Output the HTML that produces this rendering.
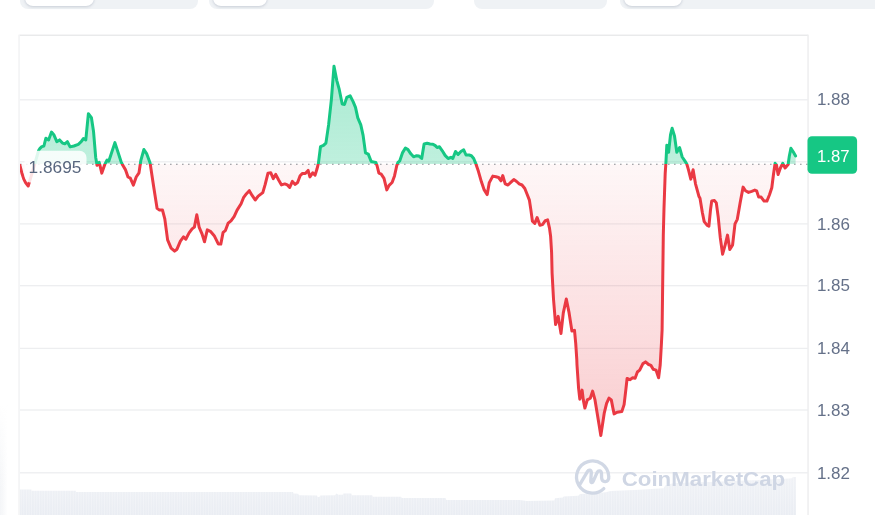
<!DOCTYPE html>
<html><head><meta charset="utf-8">
<style>
html,body{margin:0;padding:0;background:#fff;}
body{width:875px;height:515px;overflow:hidden;position:relative;font-family:"Liberation Sans",sans-serif;}
.pill{position:absolute;top:-30px;height:38.5px;background:#EFF2F5;border-radius:8px;}
.in{position:absolute;top:-30px;height:35.9px;background:#fff;border-radius:8px;box-shadow:0 1px 3px rgba(88,102,126,.22),0 0 2px rgba(88,102,126,.10);}
svg{position:absolute;left:0;top:0;will-change:transform;}
.ax{font-family:"Liberation Sans",sans-serif;font-size:17.0px;fill:#657189;}
</style></head><body>
<div class="pill" style="left:20px;width:177.5px"></div>
<div class="in" style="left:25px;width:68.5px"></div>
<div class="pill" style="left:209px;width:225px"></div>
<div class="in" style="left:212.5px;width:54px"></div>
<div class="pill" style="left:474px;width:132.5px"></div>
<div class="pill" style="left:619.5px;width:300px"></div>
<div class="in" style="left:624px;width:58px"></div>
<svg width="875" height="515" viewBox="0 0 875 515">
<defs>
<linearGradient id="gg" x1="0" y1="35" x2="0" y2="164.0" gradientUnits="userSpaceOnUse">
<stop offset="0" stop-color="#16C784" stop-opacity="0.40"/><stop offset="1" stop-color="#16C784" stop-opacity="0.275"/></linearGradient>
<linearGradient id="rg" x1="0" y1="164.0" x2="0" y2="500" gradientUnits="userSpaceOnUse">
<stop offset="0" stop-color="#EA3943" stop-opacity="0.04"/><stop offset="1" stop-color="#EA3943" stop-opacity="0.305"/></linearGradient>
<linearGradient id="lsh" x1="0" y1="0" x2="1" y2="0"><stop offset="0" stop-color="#DDE1E8" stop-opacity=".34"/><stop offset="1" stop-color="#DDE1E8" stop-opacity="0"/></linearGradient>
<linearGradient id="lshv" x1="0" y1="0" x2="0" y2="1"><stop offset="0" stop-color="#fff" stop-opacity="1"/><stop offset="1" stop-color="#fff" stop-opacity="0"/></linearGradient>
<linearGradient id="vg" x1="0" y1="478" x2="0" y2="515" gradientUnits="userSpaceOnUse"><stop offset="0" stop-color="#F0F2F6"/><stop offset="1" stop-color="#EAEDF3"/></linearGradient>
<clipPath id="up"><rect x="20" y="0" width="855" height="164.0"/></clipPath>
<clipPath id="dn"><rect x="20" y="164.0" width="855" height="351.0"/></clipPath>
<pattern id="vs" width="2.6" height="10" patternUnits="userSpaceOnUse"><rect x="0" y="0" width="0.7" height="10" fill="#fff" fill-opacity=".35"/></pattern>
</defs>
<g opacity="0.999">
<!-- left faint shadow -->
<rect x="0" y="405" width="8" height="110" fill="url(#lsh)"/>
<rect x="0" y="405" width="8" height="85" fill="url(#lshv)"/>
<!-- chart frame -->
<rect x="19.6" y="34.55" width="788.2" height="1.4" fill="#E8E9EA"/>
<rect x="18.4" y="34.6" width="1.3" height="481" fill="#F0F1F2"/>
<rect x="807.4" y="34.6" width="1.3" height="481" fill="#EBECED"/>
<rect x="20" y="99.15" width="788" height="1.3" fill="#EDEEF0"/>
<rect x="20" y="161.15" width="788" height="1.3" fill="#EDEEF0"/>
<rect x="20" y="223.25" width="788" height="1.3" fill="#EDEEF0"/>
<rect x="20" y="285.05" width="788" height="1.3" fill="#EDEEF0"/>
<rect x="20" y="347.75" width="788" height="1.3" fill="#EDEEF0"/>
<rect x="20" y="409.35" width="788" height="1.3" fill="#EDEEF0"/>
<rect x="20" y="472.15" width="788" height="1.3" fill="#EDEEF0"/>
<!-- volume -->
<path d="M20.0,489.4 L31.5,489.4 L31.5,490.8 L76.0,490.8 L76.0,492.1 L293.0,492.1 L293.5,493.6 L298.3,493.8 L298.8,495.3 L317.0,495.5 L317.6,496.9 L319.5,496.9 L320.2,495.5 L335.0,495.2 L336.5,493.5 L338.3,494.7 L342.7,494.7 L343.4,493.5 L351.2,493.5 L352.0,495.2 L372.2,495.2 L372.7,496.8 L401.0,496.8 L401.7,498.1 L445.5,498.1 L446.3,499.9 L520.0,500.0 L527.0,500.9 L554.3,500.5 L555.1,498.3 L562.9,497.4 L563.7,496.6 L578.3,495.7 L580.0,494.0 L593.7,493.5 L605.7,492.3 L610.9,490.9 L640.0,489.7 L663.6,488.3 L665.3,485.6 L673.9,483.0 L710.0,482.1 L785.3,478.7 L792.5,478.2 L792.5,477.0 L796.0,477.0 L796,515 L20,515 Z" fill="url(#vg)"/>
<path d="M20.0,489.4 L31.5,489.4 L31.5,490.8 L76.0,490.8 L76.0,492.1 L293.0,492.1 L293.5,493.6 L298.3,493.8 L298.8,495.3 L317.0,495.5 L317.6,496.9 L319.5,496.9 L320.2,495.5 L335.0,495.2 L336.5,493.5 L338.3,494.7 L342.7,494.7 L343.4,493.5 L351.2,493.5 L352.0,495.2 L372.2,495.2 L372.7,496.8 L401.0,496.8 L401.7,498.1 L445.5,498.1 L446.3,499.9 L520.0,500.0 L527.0,500.9 L554.3,500.5 L555.1,498.3 L562.9,497.4 L563.7,496.6 L578.3,495.7 L580.0,494.0 L593.7,493.5 L605.7,492.3 L610.9,490.9 L640.0,489.7 L663.6,488.3 L665.3,485.6 L673.9,483.0 L710.0,482.1 L785.3,478.7 L792.5,478.2 L792.5,477.0 L796.0,477.0 L796,515 L20,515 Z" fill="url(#vs)"/>
<!-- watermark -->
<g fill="none" stroke="#CFD6E4" stroke-width="3.3" stroke-linecap="round" stroke-linejoin="round" opacity="0.95">
<path d="M603.8,488.6 A16.1,16.1 0 1 1 608.7,476.3 C609.3,480.2 607,481.7 605.1,481.6 C603,481.5 601.7,480 601.6,477.8 L601.5,473.8 C601.4,470.4 598.6,469.9 597.2,472.4 L593.2,481.3 C592.3,483.2 590.7,482.9 590.8,480.8 L591.3,472.8 C591.4,469.6 588.8,469.2 587.4,471.6 L579.6,484.9"/>
</g>
<text x="621.7" y="485.5" font-family="Liberation Sans, sans-serif" font-size="21" font-weight="bold" fill="#CFD6E4" textLength="163.5" lengthAdjust="spacingAndGlyphs">CoinMarketCap</text>
<!-- areas -->
<path d="M20.0,165.5 L21.9,173.2 L23.8,179.0 L25.7,182.8 L28.2,186.0 L30.8,177.4 L34.6,164.5 L38.6,150.5 L40.0,148.3 L41.8,146.6 L43.9,146.0 L45.9,138.2 L48.6,139.9 L51.5,132.1 L53.8,134.7 L56.8,141.7 L59.6,139.9 L62.5,143.1 L64.8,143.8 L67.4,141.7 L70.1,146.9 L73.9,146.0 L78.3,144.3 L81.2,141.7 L83.5,138.5 L85.8,139.9 L88.4,113.7 L91.4,117.6 L93.5,131.2 L95.7,157.4 L96.6,162.6 L97.0,165.3 L99.2,162.3 L101.8,173.1 L104.8,164.4 L107.1,160.0 L108.8,161.2 L114.9,142.6 L121.1,161.8 L122.8,165.3 L125.4,169.6 L128.0,177.0 L130.3,178.1 L133.4,185.1 L136.2,177.0 L139.0,172.8 L140.8,160.6 L143.9,149.5 L146.6,153.6 L150.1,163.0 L153.6,186.3 L157.1,208.4 L159.5,210.1 L162.5,210.1 L164.8,218.9 L167.6,239.9 L171.1,248.1 L174.6,251.1 L177.0,249.2 L180.4,241.1 L183.5,236.9 L185.8,239.2 L189.1,232.9 L192.1,228.9 L194.4,227.1 L196.8,214.7 L199.1,227.1 L202.1,234.1 L204.5,241.8 L207.3,229.9 L210.8,231.7 L214.2,235.7 L218.4,244.1 L220.8,244.1 L223.1,232.4 L225.4,230.6 L228.2,223.1 L231.0,220.8 L234.1,216.6 L237.1,210.1 L241.1,203.8 L243.5,197.7 L246.5,193.7 L249.3,190.7 L252.1,195.4 L255.2,200.0 L258.2,196.1 L262.8,192.6 L265.2,184.4 L268.0,173.2 L270.8,172.8 L273.3,178.6 L275.7,174.4 L278.5,179.7 L281.5,184.9 L284.8,183.9 L287.3,184.9 L289.7,187.4 L292.4,181.4 L295.2,184.4 L297.6,182.5 L300.1,175.8 L302.5,173.4 L305.3,173.4 L308.1,170.4 L309.9,176.9 L312.7,172.8 L315.1,175.1 L316.9,169.3 L318.4,163.4 L320.5,146.6 L323.5,145.4 L325.9,143.1 L328.6,124.9 L331.4,99.3 L334.0,66.2 L336.8,80.6 L339.1,88.8 L342.2,104.0 L344.5,104.4 L346.8,97.4 L350.1,95.8 L353.1,101.6 L355.5,107.4 L357.8,117.9 L360.8,124.9 L363.1,135.4 L365.5,152.9 L368.3,154.1 L371.2,161.5 L375.8,162.4 L377.0,165.5 L378.9,173.1 L381.2,174.1 L384.0,178.3 L386.8,189.9 L389.1,185.3 L392.1,182.5 L394.5,175.9 L396.8,165.5 L398.0,162.4 L399.8,160.8 L402.6,152.6 L405.4,148.0 L408.0,149.6 L410.8,153.8 L413.6,156.8 L416.6,155.7 L419.0,156.1 L421.7,158.5 L424.1,144.0 L427.1,143.3 L430.1,144.0 L432.9,144.2 L435.3,145.6 L437.1,147.5 L439.5,146.8 L442.3,150.8 L445.1,155.4 L448.1,158.5 L450.9,157.3 L452.8,158.5 L455.5,151.5 L458.1,154.5 L460.9,151.5 L463.7,149.8 L466.0,155.0 L469.1,155.0 L471.4,155.7 L473.7,158.5 L475.6,163.1 L478.4,171.3 L481.4,181.8 L484.2,189.9 L487.2,194.6 L489.3,182.6 L492.8,176.1 L495.9,176.8 L498.6,177.5 L501.0,180.8 L502.8,175.6 L505.2,183.8 L508.0,185.0 L511.0,182.2 L513.8,179.6 L516.6,181.5 L519.2,183.8 L522.0,185.0 L524.8,188.5 L527.1,194.3 L529.4,200.1 L530.8,209.4 L532.4,221.1 L534.8,223.4 L537.1,217.6 L539.9,225.3 L542.5,224.6 L545.3,220.6 L547.6,219.9 L549.5,228.1 L550.6,236.2 L551.6,252.6 L552.1,273.3 L553.5,299.0 L555.6,324.6 L558.2,316.4 L561.0,333.4 L563.3,312.9 L566.3,299.0 L569.1,312.9 L571.9,331.1 L574.5,330.4 L575.7,343.2 L576.8,359.6 L577.0,365.0 L578.6,388.3 L579.8,399.2 L582.1,390.1 L583.3,399.9 L584.9,408.1 L587.3,399.9 L590.3,398.3 L592.6,391.1 L595.0,399.9 L597.3,413.9 L599.2,425.6 L600.8,435.4 L602.7,423.2 L604.3,412.8 L606.6,403.4 L609.0,398.1 L611.3,399.9 L612.9,408.1 L614.1,413.9 L617.1,412.3 L621.8,411.6 L624.1,404.6 L626.0,388.3 L627.1,378.5 L629.9,379.7 L632.7,377.8 L635.1,378.3 L637.4,372.0 L639.7,370.1 L642.8,363.8 L645.5,361.9 L648.6,364.5 L650.9,365.4 L653.2,369.2 L656.0,370.1 L658.6,377.8 L660.2,365.0 L661.4,344.0 L662.1,330.0 L663.3,235.0 L664.0,208.2 L665.2,173.3 L665.9,162.8 L666.8,145.3 L668.6,152.3 L670.5,134.8 L672.1,128.3 L674.5,136.0 L676.8,152.3 L679.6,147.6 L682.2,157.0 L685.0,161.2 L686.8,164.0 L688.5,169.8 L690.8,179.1 L693.1,169.8 L695.5,183.8 L699.0,196.6 L700.0,198.3 L702.3,212.3 L704.2,221.6 L707.0,225.1 L708.9,226.2 L710.5,209.9 L711.7,201.1 L714.5,200.6 L716.3,202.9 L718.2,216.9 L720.3,237.9 L722.6,254.2 L725.2,244.9 L727.5,235.1 L729.8,249.6 L732.6,244.9 L735.0,223.9 L737.3,219.3 L740.1,202.9 L743.1,187.1 L745.5,190.8 L748.5,192.4 L751.7,191.3 L754.8,190.1 L756.6,190.8 L758.7,197.1 L761.1,197.1 L764.1,201.1 L766.9,201.1 L769.5,194.8 L771.8,187.8 L773.4,175.0 L775.1,163.3 L776.5,165.2 L778.1,174.5 L780.4,168.0 L782.8,163.3 L785.1,168.0 L788.1,164.5 L789.3,156.3 L790.9,148.2 L793.2,151.7 L795.6,155.9 L795.6,164.0 L20.0,164.0 Z" fill="url(#gg)" clip-path="url(#up)"/>
<path d="M20.0,165.5 L21.9,173.2 L23.8,179.0 L25.7,182.8 L28.2,186.0 L30.8,177.4 L34.6,164.5 L38.6,150.5 L40.0,148.3 L41.8,146.6 L43.9,146.0 L45.9,138.2 L48.6,139.9 L51.5,132.1 L53.8,134.7 L56.8,141.7 L59.6,139.9 L62.5,143.1 L64.8,143.8 L67.4,141.7 L70.1,146.9 L73.9,146.0 L78.3,144.3 L81.2,141.7 L83.5,138.5 L85.8,139.9 L88.4,113.7 L91.4,117.6 L93.5,131.2 L95.7,157.4 L96.6,162.6 L97.0,165.3 L99.2,162.3 L101.8,173.1 L104.8,164.4 L107.1,160.0 L108.8,161.2 L114.9,142.6 L121.1,161.8 L122.8,165.3 L125.4,169.6 L128.0,177.0 L130.3,178.1 L133.4,185.1 L136.2,177.0 L139.0,172.8 L140.8,160.6 L143.9,149.5 L146.6,153.6 L150.1,163.0 L153.6,186.3 L157.1,208.4 L159.5,210.1 L162.5,210.1 L164.8,218.9 L167.6,239.9 L171.1,248.1 L174.6,251.1 L177.0,249.2 L180.4,241.1 L183.5,236.9 L185.8,239.2 L189.1,232.9 L192.1,228.9 L194.4,227.1 L196.8,214.7 L199.1,227.1 L202.1,234.1 L204.5,241.8 L207.3,229.9 L210.8,231.7 L214.2,235.7 L218.4,244.1 L220.8,244.1 L223.1,232.4 L225.4,230.6 L228.2,223.1 L231.0,220.8 L234.1,216.6 L237.1,210.1 L241.1,203.8 L243.5,197.7 L246.5,193.7 L249.3,190.7 L252.1,195.4 L255.2,200.0 L258.2,196.1 L262.8,192.6 L265.2,184.4 L268.0,173.2 L270.8,172.8 L273.3,178.6 L275.7,174.4 L278.5,179.7 L281.5,184.9 L284.8,183.9 L287.3,184.9 L289.7,187.4 L292.4,181.4 L295.2,184.4 L297.6,182.5 L300.1,175.8 L302.5,173.4 L305.3,173.4 L308.1,170.4 L309.9,176.9 L312.7,172.8 L315.1,175.1 L316.9,169.3 L318.4,163.4 L320.5,146.6 L323.5,145.4 L325.9,143.1 L328.6,124.9 L331.4,99.3 L334.0,66.2 L336.8,80.6 L339.1,88.8 L342.2,104.0 L344.5,104.4 L346.8,97.4 L350.1,95.8 L353.1,101.6 L355.5,107.4 L357.8,117.9 L360.8,124.9 L363.1,135.4 L365.5,152.9 L368.3,154.1 L371.2,161.5 L375.8,162.4 L377.0,165.5 L378.9,173.1 L381.2,174.1 L384.0,178.3 L386.8,189.9 L389.1,185.3 L392.1,182.5 L394.5,175.9 L396.8,165.5 L398.0,162.4 L399.8,160.8 L402.6,152.6 L405.4,148.0 L408.0,149.6 L410.8,153.8 L413.6,156.8 L416.6,155.7 L419.0,156.1 L421.7,158.5 L424.1,144.0 L427.1,143.3 L430.1,144.0 L432.9,144.2 L435.3,145.6 L437.1,147.5 L439.5,146.8 L442.3,150.8 L445.1,155.4 L448.1,158.5 L450.9,157.3 L452.8,158.5 L455.5,151.5 L458.1,154.5 L460.9,151.5 L463.7,149.8 L466.0,155.0 L469.1,155.0 L471.4,155.7 L473.7,158.5 L475.6,163.1 L478.4,171.3 L481.4,181.8 L484.2,189.9 L487.2,194.6 L489.3,182.6 L492.8,176.1 L495.9,176.8 L498.6,177.5 L501.0,180.8 L502.8,175.6 L505.2,183.8 L508.0,185.0 L511.0,182.2 L513.8,179.6 L516.6,181.5 L519.2,183.8 L522.0,185.0 L524.8,188.5 L527.1,194.3 L529.4,200.1 L530.8,209.4 L532.4,221.1 L534.8,223.4 L537.1,217.6 L539.9,225.3 L542.5,224.6 L545.3,220.6 L547.6,219.9 L549.5,228.1 L550.6,236.2 L551.6,252.6 L552.1,273.3 L553.5,299.0 L555.6,324.6 L558.2,316.4 L561.0,333.4 L563.3,312.9 L566.3,299.0 L569.1,312.9 L571.9,331.1 L574.5,330.4 L575.7,343.2 L576.8,359.6 L577.0,365.0 L578.6,388.3 L579.8,399.2 L582.1,390.1 L583.3,399.9 L584.9,408.1 L587.3,399.9 L590.3,398.3 L592.6,391.1 L595.0,399.9 L597.3,413.9 L599.2,425.6 L600.8,435.4 L602.7,423.2 L604.3,412.8 L606.6,403.4 L609.0,398.1 L611.3,399.9 L612.9,408.1 L614.1,413.9 L617.1,412.3 L621.8,411.6 L624.1,404.6 L626.0,388.3 L627.1,378.5 L629.9,379.7 L632.7,377.8 L635.1,378.3 L637.4,372.0 L639.7,370.1 L642.8,363.8 L645.5,361.9 L648.6,364.5 L650.9,365.4 L653.2,369.2 L656.0,370.1 L658.6,377.8 L660.2,365.0 L661.4,344.0 L662.1,330.0 L663.3,235.0 L664.0,208.2 L665.2,173.3 L665.9,162.8 L666.8,145.3 L668.6,152.3 L670.5,134.8 L672.1,128.3 L674.5,136.0 L676.8,152.3 L679.6,147.6 L682.2,157.0 L685.0,161.2 L686.8,164.0 L688.5,169.8 L690.8,179.1 L693.1,169.8 L695.5,183.8 L699.0,196.6 L700.0,198.3 L702.3,212.3 L704.2,221.6 L707.0,225.1 L708.9,226.2 L710.5,209.9 L711.7,201.1 L714.5,200.6 L716.3,202.9 L718.2,216.9 L720.3,237.9 L722.6,254.2 L725.2,244.9 L727.5,235.1 L729.8,249.6 L732.6,244.9 L735.0,223.9 L737.3,219.3 L740.1,202.9 L743.1,187.1 L745.5,190.8 L748.5,192.4 L751.7,191.3 L754.8,190.1 L756.6,190.8 L758.7,197.1 L761.1,197.1 L764.1,201.1 L766.9,201.1 L769.5,194.8 L771.8,187.8 L773.4,175.0 L775.1,163.3 L776.5,165.2 L778.1,174.5 L780.4,168.0 L782.8,163.3 L785.1,168.0 L788.1,164.5 L789.3,156.3 L790.9,148.2 L793.2,151.7 L795.6,155.9 L795.6,164.0 L20.0,164.0 Z" fill="url(#rg)" clip-path="url(#dn)"/>
<!-- baseline dots -->
<line x1="20" y1="164.2" x2="808" y2="164.2" stroke="#8A8D93" stroke-width="1.1" stroke-dasharray="1.6 4.4" stroke-dashoffset="0"/>
<!-- lines -->
<path d="M20.0,165.5 L21.9,173.2 L23.8,179.0 L25.7,182.8 L28.2,186.0 L30.8,177.4 L34.6,164.5 L38.6,150.5 L40.0,148.3 L41.8,146.6 L43.9,146.0 L45.9,138.2 L48.6,139.9 L51.5,132.1 L53.8,134.7 L56.8,141.7 L59.6,139.9 L62.5,143.1 L64.8,143.8 L67.4,141.7 L70.1,146.9 L73.9,146.0 L78.3,144.3 L81.2,141.7 L83.5,138.5 L85.8,139.9 L88.4,113.7 L91.4,117.6 L93.5,131.2 L95.7,157.4 L96.6,162.6 L97.0,165.3 L99.2,162.3 L101.8,173.1 L104.8,164.4 L107.1,160.0 L108.8,161.2 L114.9,142.6 L121.1,161.8 L122.8,165.3 L125.4,169.6 L128.0,177.0 L130.3,178.1 L133.4,185.1 L136.2,177.0 L139.0,172.8 L140.8,160.6 L143.9,149.5 L146.6,153.6 L150.1,163.0 L153.6,186.3 L157.1,208.4 L159.5,210.1 L162.5,210.1 L164.8,218.9 L167.6,239.9 L171.1,248.1 L174.6,251.1 L177.0,249.2 L180.4,241.1 L183.5,236.9 L185.8,239.2 L189.1,232.9 L192.1,228.9 L194.4,227.1 L196.8,214.7 L199.1,227.1 L202.1,234.1 L204.5,241.8 L207.3,229.9 L210.8,231.7 L214.2,235.7 L218.4,244.1 L220.8,244.1 L223.1,232.4 L225.4,230.6 L228.2,223.1 L231.0,220.8 L234.1,216.6 L237.1,210.1 L241.1,203.8 L243.5,197.7 L246.5,193.7 L249.3,190.7 L252.1,195.4 L255.2,200.0 L258.2,196.1 L262.8,192.6 L265.2,184.4 L268.0,173.2 L270.8,172.8 L273.3,178.6 L275.7,174.4 L278.5,179.7 L281.5,184.9 L284.8,183.9 L287.3,184.9 L289.7,187.4 L292.4,181.4 L295.2,184.4 L297.6,182.5 L300.1,175.8 L302.5,173.4 L305.3,173.4 L308.1,170.4 L309.9,176.9 L312.7,172.8 L315.1,175.1 L316.9,169.3 L318.4,163.4 L320.5,146.6 L323.5,145.4 L325.9,143.1 L328.6,124.9 L331.4,99.3 L334.0,66.2 L336.8,80.6 L339.1,88.8 L342.2,104.0 L344.5,104.4 L346.8,97.4 L350.1,95.8 L353.1,101.6 L355.5,107.4 L357.8,117.9 L360.8,124.9 L363.1,135.4 L365.5,152.9 L368.3,154.1 L371.2,161.5 L375.8,162.4 L377.0,165.5 L378.9,173.1 L381.2,174.1 L384.0,178.3 L386.8,189.9 L389.1,185.3 L392.1,182.5 L394.5,175.9 L396.8,165.5 L398.0,162.4 L399.8,160.8 L402.6,152.6 L405.4,148.0 L408.0,149.6 L410.8,153.8 L413.6,156.8 L416.6,155.7 L419.0,156.1 L421.7,158.5 L424.1,144.0 L427.1,143.3 L430.1,144.0 L432.9,144.2 L435.3,145.6 L437.1,147.5 L439.5,146.8 L442.3,150.8 L445.1,155.4 L448.1,158.5 L450.9,157.3 L452.8,158.5 L455.5,151.5 L458.1,154.5 L460.9,151.5 L463.7,149.8 L466.0,155.0 L469.1,155.0 L471.4,155.7 L473.7,158.5 L475.6,163.1 L478.4,171.3 L481.4,181.8 L484.2,189.9 L487.2,194.6 L489.3,182.6 L492.8,176.1 L495.9,176.8 L498.6,177.5 L501.0,180.8 L502.8,175.6 L505.2,183.8 L508.0,185.0 L511.0,182.2 L513.8,179.6 L516.6,181.5 L519.2,183.8 L522.0,185.0 L524.8,188.5 L527.1,194.3 L529.4,200.1 L530.8,209.4 L532.4,221.1 L534.8,223.4 L537.1,217.6 L539.9,225.3 L542.5,224.6 L545.3,220.6 L547.6,219.9 L549.5,228.1 L550.6,236.2 L551.6,252.6 L552.1,273.3 L553.5,299.0 L555.6,324.6 L558.2,316.4 L561.0,333.4 L563.3,312.9 L566.3,299.0 L569.1,312.9 L571.9,331.1 L574.5,330.4 L575.7,343.2 L576.8,359.6 L577.0,365.0 L578.6,388.3 L579.8,399.2 L582.1,390.1 L583.3,399.9 L584.9,408.1 L587.3,399.9 L590.3,398.3 L592.6,391.1 L595.0,399.9 L597.3,413.9 L599.2,425.6 L600.8,435.4 L602.7,423.2 L604.3,412.8 L606.6,403.4 L609.0,398.1 L611.3,399.9 L612.9,408.1 L614.1,413.9 L617.1,412.3 L621.8,411.6 L624.1,404.6 L626.0,388.3 L627.1,378.5 L629.9,379.7 L632.7,377.8 L635.1,378.3 L637.4,372.0 L639.7,370.1 L642.8,363.8 L645.5,361.9 L648.6,364.5 L650.9,365.4 L653.2,369.2 L656.0,370.1 L658.6,377.8 L660.2,365.0 L661.4,344.0 L662.1,330.0 L663.3,235.0 L664.0,208.2 L665.2,173.3 L665.9,162.8 L666.8,145.3 L668.6,152.3 L670.5,134.8 L672.1,128.3 L674.5,136.0 L676.8,152.3 L679.6,147.6 L682.2,157.0 L685.0,161.2 L686.8,164.0 L688.5,169.8 L690.8,179.1 L693.1,169.8 L695.5,183.8 L699.0,196.6 L700.0,198.3 L702.3,212.3 L704.2,221.6 L707.0,225.1 L708.9,226.2 L710.5,209.9 L711.7,201.1 L714.5,200.6 L716.3,202.9 L718.2,216.9 L720.3,237.9 L722.6,254.2 L725.2,244.9 L727.5,235.1 L729.8,249.6 L732.6,244.9 L735.0,223.9 L737.3,219.3 L740.1,202.9 L743.1,187.1 L745.5,190.8 L748.5,192.4 L751.7,191.3 L754.8,190.1 L756.6,190.8 L758.7,197.1 L761.1,197.1 L764.1,201.1 L766.9,201.1 L769.5,194.8 L771.8,187.8 L773.4,175.0 L775.1,163.3 L776.5,165.2 L778.1,174.5 L780.4,168.0 L782.8,163.3 L785.1,168.0 L788.1,164.5 L789.3,156.3 L790.9,148.2 L793.2,151.7 L795.6,155.9" fill="none" stroke="#16C784" stroke-width="3.0" stroke-linejoin="round" stroke-linecap="round" clip-path="url(#up)"/>
<path d="M20.0,165.5 L21.9,173.2 L23.8,179.0 L25.7,182.8 L28.2,186.0 L30.8,177.4 L34.6,164.5 L38.6,150.5 L40.0,148.3 L41.8,146.6 L43.9,146.0 L45.9,138.2 L48.6,139.9 L51.5,132.1 L53.8,134.7 L56.8,141.7 L59.6,139.9 L62.5,143.1 L64.8,143.8 L67.4,141.7 L70.1,146.9 L73.9,146.0 L78.3,144.3 L81.2,141.7 L83.5,138.5 L85.8,139.9 L88.4,113.7 L91.4,117.6 L93.5,131.2 L95.7,157.4 L96.6,162.6 L97.0,165.3 L99.2,162.3 L101.8,173.1 L104.8,164.4 L107.1,160.0 L108.8,161.2 L114.9,142.6 L121.1,161.8 L122.8,165.3 L125.4,169.6 L128.0,177.0 L130.3,178.1 L133.4,185.1 L136.2,177.0 L139.0,172.8 L140.8,160.6 L143.9,149.5 L146.6,153.6 L150.1,163.0 L153.6,186.3 L157.1,208.4 L159.5,210.1 L162.5,210.1 L164.8,218.9 L167.6,239.9 L171.1,248.1 L174.6,251.1 L177.0,249.2 L180.4,241.1 L183.5,236.9 L185.8,239.2 L189.1,232.9 L192.1,228.9 L194.4,227.1 L196.8,214.7 L199.1,227.1 L202.1,234.1 L204.5,241.8 L207.3,229.9 L210.8,231.7 L214.2,235.7 L218.4,244.1 L220.8,244.1 L223.1,232.4 L225.4,230.6 L228.2,223.1 L231.0,220.8 L234.1,216.6 L237.1,210.1 L241.1,203.8 L243.5,197.7 L246.5,193.7 L249.3,190.7 L252.1,195.4 L255.2,200.0 L258.2,196.1 L262.8,192.6 L265.2,184.4 L268.0,173.2 L270.8,172.8 L273.3,178.6 L275.7,174.4 L278.5,179.7 L281.5,184.9 L284.8,183.9 L287.3,184.9 L289.7,187.4 L292.4,181.4 L295.2,184.4 L297.6,182.5 L300.1,175.8 L302.5,173.4 L305.3,173.4 L308.1,170.4 L309.9,176.9 L312.7,172.8 L315.1,175.1 L316.9,169.3 L318.4,163.4 L320.5,146.6 L323.5,145.4 L325.9,143.1 L328.6,124.9 L331.4,99.3 L334.0,66.2 L336.8,80.6 L339.1,88.8 L342.2,104.0 L344.5,104.4 L346.8,97.4 L350.1,95.8 L353.1,101.6 L355.5,107.4 L357.8,117.9 L360.8,124.9 L363.1,135.4 L365.5,152.9 L368.3,154.1 L371.2,161.5 L375.8,162.4 L377.0,165.5 L378.9,173.1 L381.2,174.1 L384.0,178.3 L386.8,189.9 L389.1,185.3 L392.1,182.5 L394.5,175.9 L396.8,165.5 L398.0,162.4 L399.8,160.8 L402.6,152.6 L405.4,148.0 L408.0,149.6 L410.8,153.8 L413.6,156.8 L416.6,155.7 L419.0,156.1 L421.7,158.5 L424.1,144.0 L427.1,143.3 L430.1,144.0 L432.9,144.2 L435.3,145.6 L437.1,147.5 L439.5,146.8 L442.3,150.8 L445.1,155.4 L448.1,158.5 L450.9,157.3 L452.8,158.5 L455.5,151.5 L458.1,154.5 L460.9,151.5 L463.7,149.8 L466.0,155.0 L469.1,155.0 L471.4,155.7 L473.7,158.5 L475.6,163.1 L478.4,171.3 L481.4,181.8 L484.2,189.9 L487.2,194.6 L489.3,182.6 L492.8,176.1 L495.9,176.8 L498.6,177.5 L501.0,180.8 L502.8,175.6 L505.2,183.8 L508.0,185.0 L511.0,182.2 L513.8,179.6 L516.6,181.5 L519.2,183.8 L522.0,185.0 L524.8,188.5 L527.1,194.3 L529.4,200.1 L530.8,209.4 L532.4,221.1 L534.8,223.4 L537.1,217.6 L539.9,225.3 L542.5,224.6 L545.3,220.6 L547.6,219.9 L549.5,228.1 L550.6,236.2 L551.6,252.6 L552.1,273.3 L553.5,299.0 L555.6,324.6 L558.2,316.4 L561.0,333.4 L563.3,312.9 L566.3,299.0 L569.1,312.9 L571.9,331.1 L574.5,330.4 L575.7,343.2 L576.8,359.6 L577.0,365.0 L578.6,388.3 L579.8,399.2 L582.1,390.1 L583.3,399.9 L584.9,408.1 L587.3,399.9 L590.3,398.3 L592.6,391.1 L595.0,399.9 L597.3,413.9 L599.2,425.6 L600.8,435.4 L602.7,423.2 L604.3,412.8 L606.6,403.4 L609.0,398.1 L611.3,399.9 L612.9,408.1 L614.1,413.9 L617.1,412.3 L621.8,411.6 L624.1,404.6 L626.0,388.3 L627.1,378.5 L629.9,379.7 L632.7,377.8 L635.1,378.3 L637.4,372.0 L639.7,370.1 L642.8,363.8 L645.5,361.9 L648.6,364.5 L650.9,365.4 L653.2,369.2 L656.0,370.1 L658.6,377.8 L660.2,365.0 L661.4,344.0 L662.1,330.0 L663.3,235.0 L664.0,208.2 L665.2,173.3 L665.9,162.8 L666.8,145.3 L668.6,152.3 L670.5,134.8 L672.1,128.3 L674.5,136.0 L676.8,152.3 L679.6,147.6 L682.2,157.0 L685.0,161.2 L686.8,164.0 L688.5,169.8 L690.8,179.1 L693.1,169.8 L695.5,183.8 L699.0,196.6 L700.0,198.3 L702.3,212.3 L704.2,221.6 L707.0,225.1 L708.9,226.2 L710.5,209.9 L711.7,201.1 L714.5,200.6 L716.3,202.9 L718.2,216.9 L720.3,237.9 L722.6,254.2 L725.2,244.9 L727.5,235.1 L729.8,249.6 L732.6,244.9 L735.0,223.9 L737.3,219.3 L740.1,202.9 L743.1,187.1 L745.5,190.8 L748.5,192.4 L751.7,191.3 L754.8,190.1 L756.6,190.8 L758.7,197.1 L761.1,197.1 L764.1,201.1 L766.9,201.1 L769.5,194.8 L771.8,187.8 L773.4,175.0 L775.1,163.3 L776.5,165.2 L778.1,174.5 L780.4,168.0 L782.8,163.3 L785.1,168.0 L788.1,164.5 L789.3,156.3 L790.9,148.2 L793.2,151.7 L795.6,155.9" fill="none" stroke="#EA3943" stroke-width="3.0" stroke-linejoin="round" stroke-linecap="round" clip-path="url(#dn)"/>
<!-- label -->
<rect x="24.5" y="150.7" width="62" height="32" rx="7" fill="#fff" fill-opacity="0.86"/>
<text x="28.6" y="173.0" font-family="Liberation Sans, sans-serif" font-size="17.3" fill="#58667E">1.8695</text>
<!-- axis labels -->
<text x="816.9" y="105.0" class="ax">1.88</text>
<text x="816.9" y="230.0" class="ax">1.86</text>
<text x="816.9" y="291.0" class="ax">1.85</text>
<text x="816.9" y="354.0" class="ax">1.84</text>
<text x="816.9" y="416.0" class="ax">1.83</text>
<text x="816.9" y="479.0" class="ax">1.82</text>
<!-- badge -->
<rect x="807.5" y="136.3" width="49.6" height="37.4" rx="4.5" fill="#16C784"/>
<text x="817.0" y="162.0" font-family="Liberation Sans, sans-serif" font-size="16.7" fill="#fff">1.87</text>
</g>
</svg>
</body></html>
